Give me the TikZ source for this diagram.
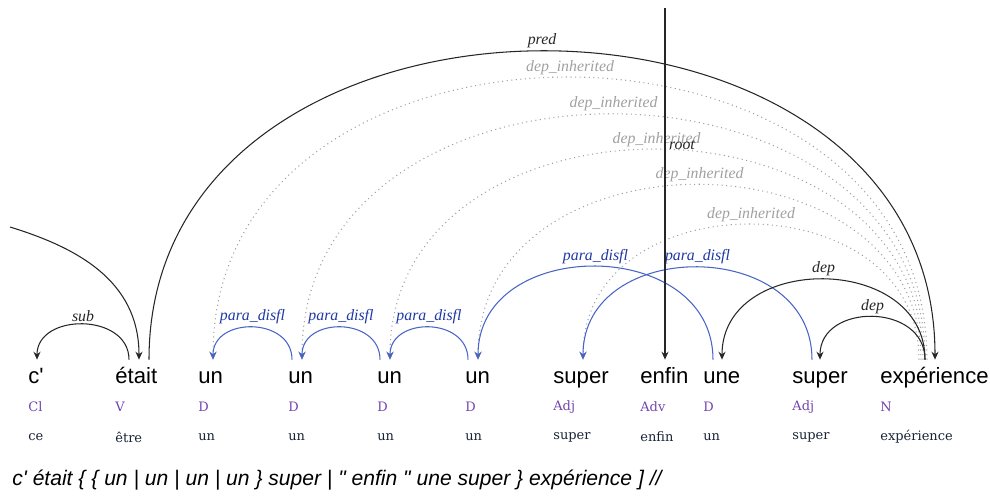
\documentclass[tikz,border=0pt]{standalone}
\usepackage{fontspec}
\setmainfont{Liberation Serif}[Ligatures=TeXOff]
\setsansfont{Liberation Sans}[Ligatures=TeXOff]
\newfontfamily\tagfont{DejaVu Serif}
\usepackage{tikz}
\usetikzlibrary{arrows.meta,calc}
\usepackage{xcolor}
\definecolor{arcblue}{RGB}{72,100,196}
\definecolor{lblblue}{RGB}{30,55,165}
\definecolor{posviolet}{RGB}{115,70,175}
\definecolor{lemdark}{RGB}{25,35,55}
\definecolor{inhgrey}{RGB}{160,160,160}

\begin{document}
\begin{tikzpicture}[x=0.02cm,y=0.02cm,>={Stealth[length=4.5pt,width=4pt]},
  word/.style={anchor=base west,inner xsep=0pt,inner ysep=3.1pt,text height=10pt,font=\sffamily\fontsize{12.6}{14}\selectfont},
  postag/.style={anchor=west,inner sep=0pt,text=posviolet,font=\tagfont\fontsize{7.4}{9}\selectfont},
  lemma/.style={anchor=west,inner sep=0pt,text=lemdark,font=\tagfont\fontsize{7.4}{9}\selectfont},
  rel/.style={->,line width=0.6pt,black!85},
  disfl/.style={->,line width=0.6pt,arcblue},
  inherit/.style={->,line width=0.6pt,inhgrey,dotted},
  arclbl/.style={above,inner sep=1.5pt,font=\itshape\fontsize{9}{10}\selectfont}]
\useasboundingbox (0,0) rectangle (990,495);
% words
\node[word] (c) at (28,112) {c'};
\node[word] (etait) at (115,112) {était};
\node[word] (un1) at (198,112) {un};
\node[word] (un2) at (288,112) {un};
\node[word] (un3) at (377,112) {un};
\node[word] (un4) at (465,112) {un};
\node[word] (super1) at (553,112) {super};
\node[word] (enfin) at (640,112) {enfin};
\node[word] (une) at (703,112) {une};
\node[word] (super2) at (792,112) {super};
\node[word] (exp) at (880,112) {expérience};
% categories
\node[postag] (c-pos) at (28,88) {Cl};
\node[postag] (etait-pos) at (115,88) {V};
\node[postag] (un1-pos) at (198,88) {D};
\node[postag] (un2-pos) at (288,88) {D};
\node[postag] (un3-pos) at (377,88) {D};
\node[postag] (un4-pos) at (465,88) {D};
\node[postag] (super1-pos) at (553,88) {Adj};
\node[postag] (enfin-pos) at (640,88) {Adv};
\node[postag] (une-pos) at (703,88) {D};
\node[postag] (super2-pos) at (792,88) {Adj};
\node[postag] (exp-pos) at (880,88) {N};
% lemmas
\node[lemma] (c-lem) at (28,58) {ce};
\node[lemma] (etait-lem) at (115,58) {être};
\node[lemma] (un1-lem) at (198,58) {un};
\node[lemma] (un2-lem) at (288,58) {un};
\node[lemma] (un3-lem) at (377,58) {un};
\node[lemma] (un4-lem) at (465,58) {un};
\node[lemma] (super1-lem) at (553,58) {super};
\node[lemma] (enfin-lem) at (640,58) {enfin};
\node[lemma] (une-lem) at (703,58) {un};
\node[lemma] (super2-lem) at (792,58) {super};
\node[lemma] (exp-lem) at (880,58) {expérience};
\node[anchor=west,inner sep=0pt,font=\sffamily\itshape\fontsize{12}{14}\selectfont] (sent) at (12,15)
  {c' était \{ \{ un | un | un | un \} super | " enfin " une super \} expérience ] //};
% inherited dependencies
\draw[inherit] ($(exp.north west)+(47,0)$) .. controls +(0,376) and +(0,376) .. ($(un1.north west)+(15,0)$) node[arclbl,midway,text=inhgrey]{dep\_inherited};
\draw[inherit] ($(exp.north west)+(45,0)$) .. controls +(0,327) and +(0,327) .. ($(un2.north west)+(14,0)$) node[arclbl,midway,text=inhgrey]{dep\_inherited};
\draw[inherit] ($(exp.north west)+(43,0)$) .. controls +(0,280) and +(0,280) .. ($(un3.north west)+(13,0)$) node[arclbl,midway,text=inhgrey]{dep\_inherited};
\draw[inherit] ($(exp.north west)+(41,0)$) .. controls +(0,233) and +(0,233) .. ($(un4.north west)+(13,0)$) node[arclbl,midway,text=inhgrey]{dep\_inherited};
\draw[inherit] ($(exp.north west)+(39,0)$) .. controls +(0,180) and +(0,180) .. ($(super1.north west)+(30,0)$) node[arclbl,midway,text=inhgrey]{dep\_inherited};
% disfluency links
\draw[disfl] ($(un2.north west)+(4,0)$) .. controls +(0,43) and +(0,43) .. ($(un1.north west)+(15,0)$) node[arclbl,midway,text=lblblue]{para\_disfl};
\draw[disfl] ($(un3.north west)+(3,0)$) .. controls +(0,43) and +(0,43) .. ($(un2.north west)+(14,0)$) node[arclbl,midway,text=lblblue]{para\_disfl};
\draw[disfl] ($(un4.north west)+(3,0)$) .. controls +(0,43) and +(0,43) .. ($(un3.north west)+(13,0)$) node[arclbl,midway,text=lblblue]{para\_disfl};
\draw[disfl] ($(une.north west)+(10,0)$) .. controls +(0,124) and +(0,124) .. ($(un4.north west)+(13,0)$) node[arclbl,midway,text=lblblue]{para\_disfl};
\draw[disfl] ($(super2.north west)+(20,0)$) .. controls +(0,123) and +(0,123) .. ($(super1.north west)+(30,0)$) node[arclbl,midway,text=lblblue]{para\_disfl};
% syntactic dependencies
\coordinate (offleft) at (10,268);
\draw[rel] (offleft) .. controls (75,248) and +(0,80) .. ($(etait.north west)+(24,0)$);
\draw[rel] ($(etait.north west)+(14,0)$) .. controls +(0,47) and +(0,47) .. ($(c.north west)+(9,0)$) node[arclbl,midway]{sub};
\draw[rel] ($(etait.north west)+(34,0)$) .. controls +(0,411) and +(0,411) .. ($(exp.north west)+(55,0)$) node[arclbl,midway]{pred};
\draw[rel] ($(exp.north west)+(45,0)$) .. controls +(0,107) and +(0,107) .. ($(une.north west)+(19,0)$) node[arclbl,midway]{dep};
\draw[rel] ($(exp.north west)+(45,0)$) .. controls +(0,57) and +(0,57) .. ($(super2.north west)+(28,0)$) node[arclbl,midway]{dep};
\coordinate (top) at (665,487);
\draw[rel] (top) -- ($(enfin.north west)+(25,0)$) node[pos=0.39,right=0pt,inner sep=2pt,font=\itshape\fontsize{9}{10}\selectfont]{root};
\end{tikzpicture}
\end{document}
